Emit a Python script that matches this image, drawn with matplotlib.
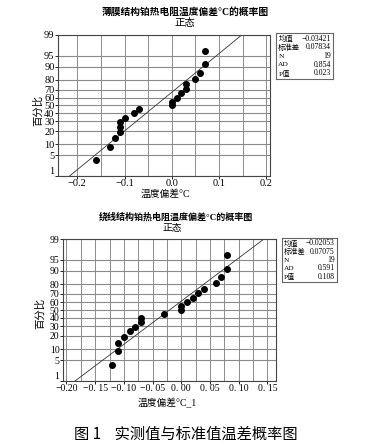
import numpy as np
import matplotlib.pyplot as plt
from statistics import NormalDist

plt.rcParams['font.family'] = ['Liberation Serif', 'Noto Sans CJK SC']
plt.rcParams['axes.unicode_minus'] = True

# data
thin_x = [-0.16, -0.13, -0.12, -0.11, -0.11, -0.11, -0.10, -0.08, -0.07, 0.00,
          0.00, 0.01, 0.02, 0.03, 0.03, 0.05, 0.06, 0.07, 0.07]
wire_x = [-0.12, -0.11, -0.11, -0.10, -0.09, -0.08, -0.07, -0.07, -0.03, 0.00,
          0.00, 0.01, 0.02, 0.03, 0.04, 0.06, 0.07, 0.08, 0.08]
pct = [3.6, 8.8, 13.9, 19.1, 24.2, 29.4, 34.5, 39.7, 44.8, 50.0,
       55.2, 60.3, 65.5, 70.6, 75.8, 80.9, 86.1, 91.2, 96.4]
ytick_pct = [1, 5, 10, 20, 30, 40, 50, 60, 70, 80, 90, 95, 99]

thin_stats = {'mean': -0.03421, 'sd': 0.07834, 'N': 19, 'AD': 0.854, 'P': 0.023}
wire_stats = {'mean': -0.02053, 'sd': 0.07075, 'N': 19, 'AD': 0.591, 'P': 0.108}

thin_xticks = [-0.2, -0.1, 0.0, 0.1, 0.2]
thin_xlabels = ['−0.2', '−0.1', '0.0', '0.1', '0.2']
wire_xticks = [-0.20, -0.15, -0.10, -0.05, 0.00, 0.05, 0.10, 0.15]
wire_xlabels = ['−0.20', '−0. 15', '−0. 10', '−0. 05', '0. 00', '0. 05', '0. 10', '0. 15']

nd = NormalDist()
z = lambda p: nd.inv_cdf(p / 100.0)


def prob_plot(ax, xs, st, xlim, xticks, xlabels, grid_step, fs):
    zs = [z(p) for p in pct]
    ylo, yhi = z(1), z(99)
    ax.set_xlim(*xlim)
    ax.set_ylim(ylo, yhi)
    # grid
    for g in np.arange(-0.3, 0.3001, grid_step):
        if xlim[0] < g < xlim[1]:
            ax.axvline(g, color='#7a7a7a', lw=0.6, zorder=0)
    for p in ytick_pct:
        ax.axhline(z(p), color='#8a8a8a', lw=0.8, zorder=0)
    # fitted line
    ax.plot([st['mean'] + st['sd'] * ylo, st['mean'] + st['sd'] * yhi], [ylo, yhi],
            color='#333333', lw=0.6, zorder=2)
    ax.plot(xs, zs, 'o', color='black', ms=4, zorder=3)
    ax.set_yticks([z(p) for p in ytick_pct])
    ax.set_yticklabels([str(p) for p in ytick_pct], fontsize=fs)
    ax.get_yticklabels()[0].set_va('bottom')
    ax.set_xticks(xticks)
    ax.set_xticklabels(xlabels, fontsize=fs)
    ax.tick_params(length=2, width=0.6, pad=0.5)
    for s in ax.spines.values():
        s.set_color('#444444')
        s.set_linewidth(0.8)


def stat_box(fig, x0, y0, x1, y1, st, fs):
    bx = fig.add_axes([x0 / 365, 1 - y1 / 448, (x1 - x0) / 365, (y1 - y0) / 448])
    bx.set_xticks([])
    bx.set_yticks([])
    for s in bx.spines.values():
        s.set_color('#666666')
        s.set_linewidth(0.8)
    rows = [('均值', f"{st['mean']:.5f}".replace('-', '−')),
            ('标准差', f"{st['sd']:.5f}"),
            ('N', str(st['N'])),
            ('AD', f"{st['AD']:.3f}"),
            ('P值', f"{st['P']:.3f}")]
    for i, (k, v) in enumerate(rows):
        yy = 0.88 - i * 0.19
        bx.text(0.04, yy, k, fontsize=fs - 0.3, va='center', ha='left')
        bx.text(0.96, yy, v, fontsize=fs, va='center', ha='right')


fig = plt.figure(figsize=(3.65, 4.48), dpi=100)

# top chart
ax1 = fig.add_axes([58 / 365, 1 - 176 / 448, 212 / 365, 141 / 448])
prob_plot(ax1, thin_x, thin_stats, (-0.241, 0.208), thin_xticks, thin_xlabels, 0.05, 7.5)
fig.text(185 / 365, 1 - 12 / 448, '薄膜结构铂热电阻温度偏差°C的概率图', ha='center', va='center',
         fontsize=7, weight='bold')
fig.text(185 / 365, 1 - 23 / 448, '正态', ha='center', va='center', fontsize=7.5)
fig.text(38 / 365, 1 - 110 / 448, '百分比', rotation=90, ha='center', va='center',
         fontsize=7.5)
fig.text(165 / 365, 1 - 194 / 448, '温度偏差°C', ha='center', va='center', fontsize=7)
stat_box(fig, 276, 33, 333, 79, thin_stats, 5.6)

# bottom chart
ax2 = fig.add_axes([63 / 365, 1 - 381 / 448, 213 / 365, 142 / 448])
prob_plot(ax2, wire_x, wire_stats, (-0.206, 0.165), wire_xticks, wire_xlabels, 0.025, 7)
fig.text(176 / 365, 1 - 217 / 448, '绕线结构铂热电阻温度偏差°C的概率图', ha='center', va='center',
         fontsize=6.5, weight='bold')
fig.text(172 / 365, 1 - 228 / 448, '正态', ha='center', va='center', fontsize=7)
fig.text(40 / 365, 1 - 313 / 448, '百分比', rotation=90, ha='center', va='center',
         fontsize=7.5)
fig.text(167 / 365, 1 - 403 / 448, '温度偏差°C_1', ha='center', va='center', fontsize=7)
stat_box(fig, 282, 238, 337, 282, wire_stats, 5.5)

# caption
fig.text(186 / 365, 1 - 434 / 448, '图 1    实测值与标准值温差概率图', ha='center', va='center',
         fontsize=11, family=['Noto Sans CJK SC'])

fig.savefig('out.png', dpi=100)
